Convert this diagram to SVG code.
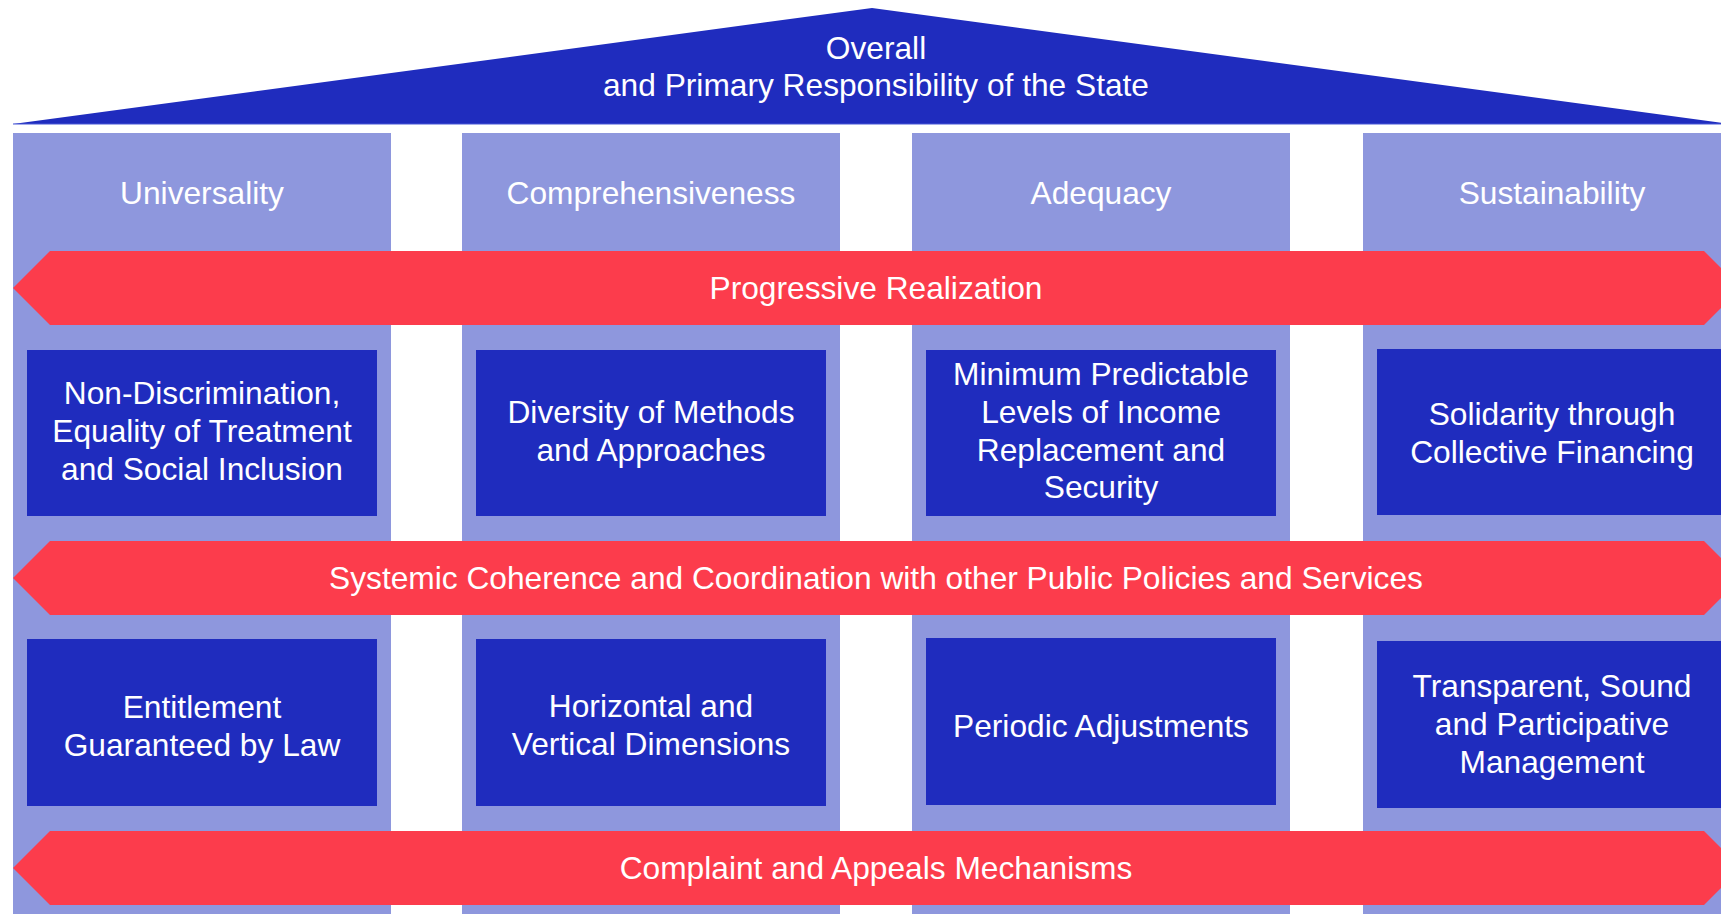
<svg xmlns="http://www.w3.org/2000/svg" width="1721" height="914" viewBox="0 0 1721 914">
<style>
.col{fill:#8E97DD}
.box{fill:#1F2CBE}
.band{fill:#FC3C4C}
.t{font-family:"Liberation Sans",Arial,sans-serif;font-size:31.7px;fill:#FFFFFF;text-anchor:middle}
</style>
<rect width="1721" height="914" fill="#FFFFFF"/>
<g id="roof">
<polygon points="13,124 872,8 1731,124" fill="#1F2CBE"/>
<line x1="13" y1="124" x2="1731" y2="124" stroke="#4656D6" stroke-width="1"/>
<text class="t" x="876" y="59">Overall</text>
<text class="t" x="876" y="96">and Primary Responsibility of the State</text>
</g>
<g id="columns">
<g id="col-universality"><rect class="col" x="13" y="133" width="378" height="781"/><text class="t" x="202" y="204">Universality</text></g>
<g id="col-comprehensiveness"><rect class="col" x="462" y="133" width="378" height="781"/><text class="t" x="651" y="204">Comprehensiveness</text></g>
<g id="col-adequacy"><rect class="col" x="912" y="133" width="378" height="781"/><text class="t" x="1101" y="204">Adequacy</text></g>
<g id="col-sustainability"><rect class="col" x="1363" y="133" width="378" height="781"/><text class="t" x="1552" y="204">Sustainability</text></g>
</g>
<g id="connectors">
<g id="band-progressive"><polygon class="band" points="13,288 50,251 1704,251 1741,288 1704,325 50,325"/><text class="t" x="876" y="299">Progressive Realization</text></g>
<g id="band-systemic"><polygon class="band" points="13,578 50,541 1704,541 1741,578 1704,615 50,615"/><text class="t" x="876" y="589">Systemic Coherence and Coordination with other Public Policies and Services</text></g>
<g id="band-complaint"><polygon class="band" points="13,868 50,831 1704,831 1741,868 1704,905 50,905"/><text class="t" x="876" y="879">Complaint and Appeals Mechanisms</text></g>
</g>
<g id="box-nondiscrimination"><rect class="box" x="27" y="350" width="350" height="166"/><text class="t" x="202" y="404">Non-Discrimination,</text><text class="t" x="202" y="442">Equality of Treatment</text><text class="t" x="202" y="480">and Social Inclusion</text></g>
<g id="box-diversity"><rect class="box" x="476" y="350" width="350" height="166"/><text class="t" x="651" y="423">Diversity of Methods</text><text class="t" x="651" y="461">and Approaches</text></g>
<g id="box-minimum"><rect class="box" x="926" y="350" width="350" height="166"/><text class="t" x="1101" y="385">Minimum Predictable</text><text class="t" x="1101" y="423">Levels of Income</text><text class="t" x="1101" y="461">Replacement and</text><text class="t" x="1101" y="498">Security</text></g>
<g id="box-solidarity"><rect class="box" x="1377" y="349" width="350" height="166"/><text class="t" x="1552" y="425">Solidarity through</text><text class="t" x="1552" y="463">Collective Financing</text></g>
<g id="box-entitlement"><rect class="box" x="27" y="639" width="350" height="167"/><text class="t" x="202" y="718">Entitlement</text><text class="t" x="202" y="756">Guaranteed by Law</text></g>
<g id="box-horizontal"><rect class="box" x="476" y="639" width="350" height="167"/><text class="t" x="651" y="717">Horizontal and</text><text class="t" x="651" y="755">Vertical Dimensions</text></g>
<g id="box-periodic"><rect class="box" x="926" y="638" width="350" height="167"/><text class="t" x="1101" y="737">Periodic Adjustments</text></g>
<g id="box-transparent"><rect class="box" x="1377" y="641" width="350" height="167"/><text class="t" x="1552" y="697">Transparent, Sound</text><text class="t" x="1552" y="735">and Participative</text><text class="t" x="1552" y="773">Management</text></g>
</svg>
